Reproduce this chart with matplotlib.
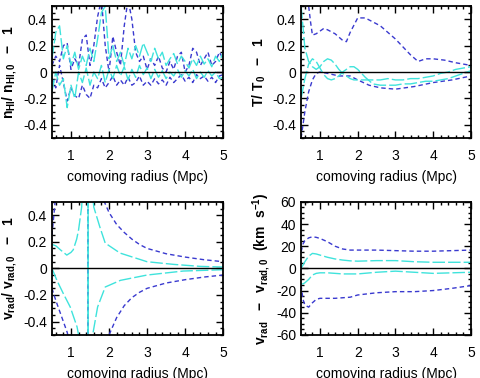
"""
Four-panel profile comparison: fractional deviations vs comoving radius.
"""
import matplotlib
matplotlib.use("Agg")
import matplotlib.pyplot as plt
from matplotlib.ticker import MultipleLocator

plt.rcParams["font.family"] = ["Liberation Sans", "DejaVu Sans"]
plt.rcParams["mathtext.fontset"] = "custom"
plt.rcParams["mathtext.rm"] = "Liberation Sans:bold"
plt.rcParams["mathtext.it"] = "Liberation Sans:bold"
plt.rcParams["mathtext.bf"] = "Liberation Sans:bold"

BLUE = "#3a3acf"
CYAN = "#3fe3dc"
BLUE_DASH = (3.2, 2.2)
CYAN_DASH = (9.0, 2.2)

# --------- DATA ---------
# panel 1: n_HI / n_HI,0 - 1
x_nh = [0.5, 0.6, 0.7, 0.8, 0.9, 1.0, 1.1, 1.2, 1.3, 1.4, 1.5, 1.6, 1.7, 1.8, 1.9,
        2.0, 2.1, 2.2, 2.3, 2.4, 2.5, 2.6, 2.7, 2.8, 2.9, 3.0, 3.1, 3.2, 3.3, 3.4,
        3.5, 3.6, 3.7, 3.8, 3.9, 4.0, 4.1, 4.2, 4.3, 4.4, 4.5, 4.6, 4.7, 4.8, 4.9, 5.0]
nh_blue_hi = [0.05, 0.12, 0.08, 0.2, 0.22, 0.02, 0.1, 0.05, 0.25, 0.28, 0.05, 0.2, 0.42, 0.55, 0.2,
              0.0, 0.27, 0.15, 0.05, 0.35, 0.55, 0.4, 0.15, 0.08, 0.12, 0.02, 0.1, 0.05, 0.12, 0.03,
              0.0, 0.08, 0.02, 0.12, 0.15, 0.0, 0.05, 0.18, 0.15, 0.05, 0.1, 0.15, 0.05, 0.08, 0.15, 0.1]
nh_blue_lo = [-0.05, -0.12, 0.05, -0.08, -0.22, -0.12, -0.18, -0.2, -0.1, -0.17, -0.2, -0.1, -0.12, -0.05, -0.12,
              -0.08, -0.03, -0.1, -0.06, -0.1, -0.04, -0.1, -0.08, -0.03, -0.1, -0.07, -0.1, -0.05, -0.09, -0.06,
              -0.1, -0.04, -0.08, -0.05, -0.02, -0.07, -0.04, -0.08, -0.02, -0.05, -0.03, -0.07, -0.04, -0.08, -0.03, -0.02]
nh_cyan_hi = [0.1, 0.3, 0.35, 0.1, 0.2, 0.05, 0.15, 0.02, 0.12, 0.05, 0.18, 0.08, 0.25, 0.45, 0.5,
              0.1, 0.2, 0.08, 0.15, 0.05, 0.18, 0.1, 0.2, 0.12, 0.22, 0.15, 0.08, 0.18, 0.1, 0.15,
              0.05, 0.1, 0.14, 0.06, 0.12, 0.08, 0.03, 0.1, 0.05, 0.12, 0.06, 0.1, 0.04, 0.12, 0.08, 0.15]
nh_cyan_lo = [-0.15, 0.0, -0.1, -0.05, -0.27, -0.1, -0.2, 0.0, -0.08, 0.03, -0.1, 0.0, -0.05, 0.05, -0.08,
              0.02, -0.05, 0.05, -0.03, 0.04, -0.06, 0.02, -0.04, 0.05, -0.02, 0.03, -0.05, 0.02, -0.04, 0.01,
              -0.05, 0.0, -0.03, 0.02, -0.04, 0.01, -0.03, 0.02, -0.05, 0.0, -0.04, 0.01, -0.03, 0.0, -0.05, -0.04]

# panel 2: T / T0 - 1
x_t_blue_hi = [0.6, 0.7, 0.75, 0.8, 0.9, 1.0, 1.1, 1.2, 1.4, 1.6, 1.7, 1.8, 2.0, 2.2, 2.4,
               2.6, 2.8, 3.0, 3.2, 3.4, 3.6, 3.8, 4.0, 4.3, 4.6, 5.0]
t_blue_hi = [0.8, 0.5, 0.38, 0.28, 0.29, 0.31, 0.33, 0.32, 0.29, 0.24, 0.23, 0.3, 0.41, 0.41, 0.38,
             0.35, 0.3, 0.25, 0.19, 0.13, 0.08, 0.1, 0.1, 0.09, 0.07, 0.05]
x_t_blue_lo = [0.5, 0.6, 0.7, 0.8, 0.9, 1.0, 1.2, 1.5, 1.8, 2.0, 2.3, 2.6, 3.0, 3.5, 4.0, 4.5, 5.0]
t_blue_lo = [-0.5, -0.3, -0.15, -0.06, -0.01, 0.0, -0.01, -0.03, -0.03, -0.06, -0.1, -0.12, -0.13, -0.11, -0.08, -0.06, -0.03]
x_t_cyan = [0.5, 0.6, 0.7, 0.8, 0.9, 1.0, 1.1, 1.2, 1.3, 1.4, 1.5, 1.6, 1.7, 1.8, 1.9,
            2.0, 2.2, 2.4, 2.6, 2.8, 3.0, 3.2, 3.4, 3.6, 3.8, 4.0, 4.2, 4.4, 4.6, 4.8, 5.0]
t_cyan_a = [0.5, 0.18, 0.08, 0.04, 0.02, 0.04, 0.08, 0.1, 0.09, 0.06, 0.02, -0.01, -0.03, -0.05, -0.06,
            -0.06, -0.06, -0.06, -0.06, -0.05, -0.06, -0.06, -0.05, -0.05, -0.04, -0.03, -0.01, 0.0, 0.02, 0.03, 0.04]
t_cyan_b = [-0.2, -0.05, 0.06, 0.1, 0.08, 0.03, -0.02, -0.05, -0.06, -0.05, -0.03, 0.0, 0.02, 0.04, 0.04,
            0.02, -0.04, -0.09, -0.1, -0.1, -0.1, -0.09, -0.09, -0.08, -0.07, -0.07, -0.06, -0.05, -0.03, -0.01, 0.01]

# panel 3: v_rad / v_rad,0 - 1 (pole near 1.45 Mpc)
x_v_blue_a = [0.5, 0.55, 0.6, 0.7, 0.9, 1.2, 1.44, 1.46, 1.7, 1.9, 2.0, 2.2, 2.4, 2.6, 2.8,
              3.0, 3.5, 4.0, 4.5, 5.0]
v_blue_a = [0.25, 0.4, 0.55, 0.8, 1.5, 3.0, 5.0, -5.0, -1.2, -0.62, -0.5, -0.37, -0.28, -0.22, -0.18,
            -0.15, -0.11, -0.085, -0.065, -0.05]
x_v_blue_b = [0.5, 0.6, 0.7, 0.8, 0.9, 1.0, 1.2, 1.44, 1.46, 1.7, 1.8, 2.0, 2.2, 2.4, 2.6,
              2.8, 3.0, 3.5, 4.0, 4.5, 5.0]
v_blue_b = [-0.15, -0.24, -0.32, -0.4, -0.48, -0.6, -1.2, -5.0, 5.0, 0.7, 0.55, 0.42, 0.33, 0.27, 0.22,
            0.18, 0.15, 0.11, 0.085, 0.065, 0.05]
x_v_cyan_a = [0.5, 0.6, 0.72, 0.89, 1.0, 1.06, 1.15, 1.2, 1.28, 1.35, 1.44, 1.46, 1.57, 1.7, 1.9,
              2.3, 3.0, 3.95, 5.0]
v_cyan_a = [0.18, 0.17, 0.14, 0.1, 0.12, 0.14, 0.22, 0.29, 0.46, 0.8, 5.0, -5.0, -0.5, -0.29, -0.14,
            -0.09, -0.05, -0.02, -0.01]
x_v_cyan_b = [0.5, 0.63, 0.8, 0.98, 1.16, 1.2, 1.3, 1.44, 1.46, 1.52, 1.6, 1.76, 1.9, 2.29, 3.0,
              3.7, 4.4, 5.0]
v_cyan_b = [0.0, -0.09, -0.19, -0.29, -0.44, -0.5, -0.8, -5.0, 5.0, 0.7, 0.46, 0.31, 0.19, 0.115, 0.05,
            0.03, 0.015, 0.01]

# panel 4: v_rad - v_rad,0 (km/s)
x_dv = [0.5, 0.55, 0.6, 0.7, 0.8, 0.9, 1.0, 1.2, 1.4, 1.6, 1.8, 2.0, 2.5, 3.0, 3.5, 4.0, 4.5, 5.0]
dv_blue_hi = [15, 22, 25, 27.5, 28.5, 28, 27, 24, 20, 17.5, 16.5, 16.5, 16.5, 16, 15.5, 15.5, 16, 16.5]
dv_cyan_hi = [0, 3, 6, 11, 13.5, 13, 12, 10, 8.5, 7.5, 6.8, 6.5, 7, 7, 6, 5.5, 5.5, 5.5]
dv_cyan_lo = [-14, -14, -13, -10, -6, -4.5, -4, -4, -4.5, -5, -5, -5, -3.5, -2.5, -3.5, -4.5, -4, -3.5]
dv_blue_lo = [-15, -28, -33, -35, -31, -28, -27, -27, -27, -26.5, -26, -24, -22, -21, -21, -20, -18, -15.5]


def style_axes(ax, ylim, ymajor, yminor, ylabel):
    ax.set_xlim(0.5, 5)
    ax.set_ylim(*ylim)
    ax.axhline(0, color="black", lw=1.0, zorder=3)
    ax.xaxis.set_major_locator(MultipleLocator(1))
    ax.xaxis.set_minor_locator(MultipleLocator(0.2))
    ax.yaxis.set_major_locator(MultipleLocator(ymajor))
    ax.yaxis.set_minor_locator(MultipleLocator(yminor))
    ax.tick_params(which="both", direction="in", top=True, right=True, labelsize=10, width=1.0)
    ax.tick_params(which="major", length=5)
    ax.tick_params(axis="x", which="major", pad=8)
    ax.tick_params(which="minor", length=2.5)
    for sp in ax.spines.values():
        sp.set_linewidth(1.3)
    ax.set_xlabel("comoving radius (Mpc)", fontsize=10, labelpad=5)
    ax.set_ylabel(ylabel, fontsize=10, fontweight="bold", labelpad=3)


def zero_fmt(ax):
    ax.yaxis.set_major_formatter(plt.FuncFormatter(lambda v, p: "0" if abs(v) < 1e-9 else f"{v:g}"))


fig = plt.figure(figsize=(4.81, 3.78), dpi=100)
ax1 = fig.add_axes([0.108, 0.635, 0.356, 0.349])
ax2 = fig.add_axes([0.626, 0.635, 0.353, 0.349])
ax3 = fig.add_axes([0.108, 0.114, 0.356, 0.352])
ax4 = fig.add_axes([0.626, 0.114, 0.353, 0.352])

lw = 1.0
ax1.plot(x_nh, nh_blue_hi, color=BLUE, lw=lw, dashes=BLUE_DASH)
ax1.plot(x_nh, nh_blue_lo, color=BLUE, lw=lw, dashes=BLUE_DASH)
ax1.plot(x_nh, nh_cyan_hi, color=CYAN, lw=lw, dashes=CYAN_DASH)
ax1.plot(x_nh, nh_cyan_lo, color=CYAN, lw=lw, dashes=CYAN_DASH)
style_axes(ax1, (-0.5, 0.5), 0.2, 0.05, r"$\mathregular{n_{HI}/\ n_{HI,0}\ \ -\ \ 1}$")

ax2.plot(x_t_blue_hi, t_blue_hi, color=BLUE, lw=lw, dashes=BLUE_DASH)
ax2.plot(x_t_blue_lo, t_blue_lo, color=BLUE, lw=lw, dashes=BLUE_DASH)
ax2.plot(x_t_cyan, t_cyan_a, color=CYAN, lw=lw, dashes=CYAN_DASH)
ax2.plot(x_t_cyan, t_cyan_b, color=CYAN, lw=lw, dashes=CYAN_DASH)
style_axes(ax2, (-0.5, 0.5), 0.2, 0.05, r"$\mathregular{T/\ T_0\ \ -\ \ 1}$")

ax3.plot(x_v_blue_a, v_blue_a, color=BLUE, lw=lw, dashes=BLUE_DASH)
ax3.plot(x_v_blue_b, v_blue_b, color=BLUE, lw=lw, dashes=BLUE_DASH)
ax3.plot(x_v_cyan_a, v_cyan_a, color=CYAN, lw=lw, dashes=CYAN_DASH)
ax3.plot(x_v_cyan_b, v_cyan_b, color=CYAN, lw=lw, dashes=CYAN_DASH)
style_axes(ax3, (-0.5, 0.5), 0.2, 0.05, r"$\mathregular{v_{rad}/\ v_{rad,0}\ \ -\ \ 1}$")

ax4.plot(x_dv, dv_blue_hi, color=BLUE, lw=lw, dashes=BLUE_DASH)
ax4.plot(x_dv, dv_blue_lo, color=BLUE, lw=lw, dashes=BLUE_DASH)
ax4.plot(x_dv, dv_cyan_hi, color=CYAN, lw=lw, dashes=CYAN_DASH)
ax4.plot(x_dv, dv_cyan_lo, color=CYAN, lw=lw, dashes=CYAN_DASH)
style_axes(ax4, (-60, 60), 20, 5, r"$\mathregular{v_{rad}\ \ -\ \ v_{rad,0}\ \ (km\ \ s^{-1})}$")

for ax in (ax1, ax2, ax3, ax4):
    zero_fmt(ax)

fig.savefig("out.png", dpi=100)
